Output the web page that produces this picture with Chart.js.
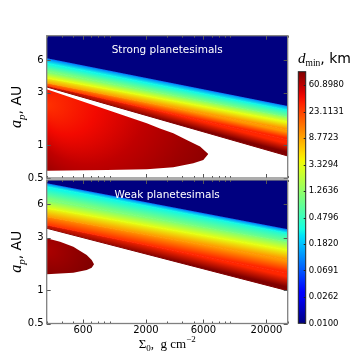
<!DOCTYPE html>
<html>
<head>
<meta charset="utf-8">
<script src="https://cdn.jsdelivr.net/npm/chart.js@4.4.1/dist/chart.umd.min.js"></script>
<style>
html, body { margin: 0; padding: 0; background: #fff; }
#wrap { position: relative; width: 360px; height: 360px; }
#wrap canvas { position: absolute; left: 0; top: 0; }
</style>
</head>
<body>
<div id="wrap">
  <canvas id="strong" width="360" height="360"></canvas>
  <canvas id="weak" width="360" height="360"></canvas>
  <canvas id="cbar" width="360" height="360"></canvas>
</div>
<script>
const sigmaRange = [300, 30000];
const apRange = [0.5, 10];
const sigmaTicks = [600, 2000, 6000, 20000];
const apTicks = [0.5, 1, 3, 6];
const dRange = [0.01, 100];
const dTicks = [0.0100, 0.0262, 0.0691, 0.1820, 0.4796, 1.2636, 3.3294, 8.7723, 23.1131, 60.8980];

// d_min contours across the sloping band, a_p where each meets sigma=300 (left) and sigma=30000 (right)
const stripeLevels = [0.1, 0.3, 1, 3.3, 10, 30, 100];
const strongLeft = [6.21, 5.57, 4.71, 4.10, 3.70, 3.49, 3.40];
const strongRight = [2.28, 2.09, 1.82, 1.64, 1.37, 1.11, 0.795];
const weakLeft = [9.33, 8.69, 6.59, 5.54, 4.65, 3.91, 3.65];
const weakRight = [3.57, 3.29, 2.76, 2.32, 1.88, 1.43, 0.992];

// inner region (small a_p), upper and lower edges, where d_min is lowest, and its levels
const strongInnerTopSigma = [300, 2030, 2610, 3370, 4360, 5620, 6580];
const strongInnerTopAp = [3.24, 1.58, 1.42, 1.28, 1.11, 0.97, 0.83];
const strongInnerBotSigma = [300, 944, 2030, 3370, 4940, 5980, 6580];
const strongInnerBotAp = [0.583, 0.592, 0.601, 0.627, 0.682, 0.731, 0.83];
const strongInnerCentre = [300, 2.33];
const strongInnerLevels = [27, 40, 60, 80, 100];

const weakInnerTopSigma = [300, 387, 499, 644, 709, 741];
const weakInnerTopAp = [2.96, 2.76, 2.48, 2.09, 1.88, 1.72];
const weakInnerBotSigma = [300, 499, 644, 709, 741];
const weakInnerBotAp = [1.40, 1.44, 1.53, 1.60, 1.72];
const weakInnerCentre = [300, 2.3];
const weakInnerLevels = [70, 80, 90, 100];

Chart.defaults.font.family = '"DejaVu Sans", sans-serif';
Chart.defaults.color = '#000';
Chart.defaults.animation = false;

// matplotlib jet
const jetR = [[0, 0], [0.35, 0], [0.66, 1], [0.89, 1], [1, 0.5]];
const jetG = [[0, 0], [0.125, 0], [0.375, 1], [0.64, 1], [0.91, 0], [1, 0]];
const jetB = [[0, 0.5], [0.11, 1], [0.34, 1], [0.65, 0], [1, 0]];
function seg(s, f) {
    for (let i = 1; i < s.length; i++) {
        if (f <= s[i][0]) {
            const [x0, y0] = s[i - 1], [x1, y1] = s[i];
            return y0 + (y1 - y0) * (f - x0) / (x1 - x0);
        }
    }
    return s[s.length - 1][1];
}
function jet(v) {
    let f = Math.log10(v / dRange[0]) / Math.log10(dRange[1] / dRange[0]);
    f = Math.min(1, Math.max(0, f));
    const c = t => Math.round(255 * t);
    return 'rgb(' + c(seg(jetR, f)) + ',' + c(seg(jetG, f)) + ',' + c(seg(jetB, f)) + ')';
}

const pts = (xs, ys) => xs.map((x, i) => ({ x: x, y: ys[i] }));

function bandGradient(chart, left, right, i) {
    const { ctx, chartArea, scales } = chart;
    const c0 = jet(stripeLevels[i]), c1 = jet(stripeLevels[i + 1]);
    if (!chartArea) return c0;
    const x = scales.x, y = scales.y;
    const xl = x.getPixelForValue(sigmaRange[0]), xr = x.getPixelForValue(sigmaRange[1]);
    const t0 = y.getPixelForValue(left[i]), t1 = y.getPixelForValue(right[i]);
    const b0 = y.getPixelForValue(left[i + 1]), b1 = y.getPixelForValue(right[i + 1]);
    const xm = (xl + xr) / 2, ym = (t0 + t1) / 2;
    const h = Math.max(0.5, (b0 + b1) / 2 - ym);
    const s = ((t1 - t0) + (b1 - b0)) / 2 / (xr - xl);
    const k = h / (1 + s * s);
    const g = ctx.createLinearGradient(xm, ym, xm - s * k, ym + k);
    g.addColorStop(0, c0);
    g.addColorStop(1, c1);
    return g;
}

function innerGradient(chart, centre, levels, reachX, reachY) {
    const { ctx, chartArea, scales } = chart;
    if (!chartArea) return jet(levels[0]);
    const x0 = scales.x.getPixelForValue(centre[0]), y0 = scales.y.getPixelForValue(centre[1]);
    const k = (reachX * reachX - reachY * reachY) / (2 * reachX), r = reachX - k;
    const g = ctx.createRadialGradient(x0, y0, 0, x0 + k, y0, r);
    levels.forEach((v, i) => g.addColorStop(i / (levels.length - 1), jet(v)));
    return g;
}

function panelSets(left, right, inner) {
    const edge = i => [{ x: sigmaRange[0], y: left[i] }, { x: sigmaRange[1], y: right[i] }];
    const sets = [{
        data: edge(0), fill: 'end', backgroundColor: jet(dRange[0]), borderWidth: 0
    }];
    stripeLevels.forEach((lv, i) => {
        const last = i === stripeLevels.length - 1;
        sets.push({
            data: edge(i),
            fill: last ? false : '+1',
            borderColor: jet(lv),
            borderWidth: 1,
            backgroundColor: last ? 'rgba(0,0,0,0)' : (c) => bandGradient(c.chart, left, right, i)
        });
    });
    sets.push({
        data: pts(inner.topSigma, inner.topAp),
        fill: '+1',
        borderWidth: 0,
        backgroundColor: (c) => innerGradient(c.chart, inner.centre, inner.levels, inner.reachX, inner.reachY)
    });
    sets.push({ data: pts(inner.botSigma, inner.botAp), fill: false, borderWidth: 0 });
    sets.forEach(d => { d.showLine = true; d.pointRadius = 0; d.tension = 0; });
    return sets;
}

function drawRich(ctx, parts, x, y, align) {
    let total = 0;
    parts.forEach(p => { ctx.font = p.font; p.w = ctx.measureText(p.text).width; total += p.w; });
    let cx = align === 'center' ? x - total / 2 : x;
    ctx.textAlign = 'left';
    ctx.textBaseline = 'alphabetic';
    parts.forEach(p => { ctx.font = p.font; ctx.fillText(p.text, cx, y + (p.dy || 0)); cx += p.w; });
}

const minorSigma = [];
[100, 1000, 10000].forEach(d => {
    for (let m = 1; m <= 9; m++) {
        const v = m * d;
        if (v >= sigmaRange[0] && v <= sigmaRange[1]) minorSigma.push(v);
    }
});

const axisFrame = {
    id: 'axisFrame',
    afterDatasetsDraw(chart, args, opts) {
        const { ctx, chartArea: a, scales } = chart;
        const x = scales.x, y = scales.y;
        ctx.save();
        ctx.strokeStyle = '#555';
        ctx.lineWidth = 1;
        ctx.beginPath();
        minorSigma.forEach(v => {
            const px = Math.round(x.getPixelForValue(v)) + 0.5;
            const len = sigmaTicks.includes(v) ? 4 : 2;
            ctx.moveTo(px, a.bottom); ctx.lineTo(px, a.bottom - len);
            ctx.moveTo(px, a.top); ctx.lineTo(px, a.top + len);
        });
        apTicks.forEach(v => {
            const py = Math.round(y.getPixelForValue(v)) + 0.5;
            ctx.moveTo(a.left, py); ctx.lineTo(a.left + 4, py);
            ctx.moveTo(a.right, py); ctx.lineTo(a.right - 4, py);
        });
        ctx.stroke();
        ctx.strokeStyle = '#808080';
        ctx.lineWidth = 1.3;
        ctx.strokeRect(a.left, a.top, a.right - a.left, a.bottom - a.top);

        ctx.fillStyle = '#fff';
        ctx.font = '10.5px "DejaVu Sans"';
        ctx.textAlign = 'center';
        ctx.textBaseline = 'middle';
        ctx.fillText(opts.label, (a.left + a.right) / 2, a.top + 15);

        ctx.fillStyle = '#000';
        if (opts.xTitle) {
            drawRich(ctx, [
                { text: 'Σ', font: '13px "Liberation Serif"' },
                { text: '0', font: '9px "Liberation Serif"', dy: 3 },
                { text: ',  g cm', font: '13px "Liberation Serif"' },
                { text: '−2', font: '9px "Liberation Serif"', dy: -6 }
            ], (a.left + a.right) / 2, 348, 'center');
        }
        ctx.translate(21, (a.top + a.bottom) / 2);
        ctx.rotate(-Math.PI / 2);
        drawRich(ctx, [
            { text: 'a', font: 'italic 16px "Liberation Serif"' },
            { text: 'p', font: 'italic 11px "Liberation Serif"', dy: 3.5 },
            { text: ', AU', font: '14px "DejaVu Sans"' }
        ], 0, 0, 'center');
        ctx.restore();
    }
};

function panelChart(id, left, right, inner, label, showX, pad) {
    return new Chart(document.getElementById(id), {
        type: 'scatter',
        data: { datasets: panelSets(left, right, inner) },
        options: {
            responsive: false,
            devicePixelRatio: 1,
            events: [],
            layout: { padding: pad },
            plugins: {
                legend: { display: false },
                tooltip: { enabled: false },
                axisFrame: { label: label, xTitle: showX }
            },
            scales: {
                x: {
                    type: 'logarithmic',
                    display: showX,
                    min: sigmaRange[0],
                    max: sigmaRange[1],
                    afterBuildTicks: s => { s.ticks = sigmaTicks.map(v => ({ value: v })); },
                    afterFit: s => { s.height = showX ? 36.5 : 0; },
                    grid: { display: false, drawTicks: false },
                    border: { display: false },
                    ticks: {
                        autoSkip: false, maxRotation: 0, padding: 1,
                        font: { size: 10 }, color: '#000',
                        callback: v => String(v)
                    }
                },
                y: {
                    type: 'logarithmic',
                    min: apRange[0],
                    max: apRange[1],
                    afterBuildTicks: s => { s.ticks = apTicks.map(v => ({ value: v })); },
                    afterFit: s => { s.width = 46.7; },
                    grid: { display: false, drawTicks: false },
                    border: { display: false },
                    ticks: {
                        autoSkip: false, padding: 3,
                        font: { size: 10 }, color: '#000',
                        callback: v => String(v)
                    }
                }
            }
        },
        plugins: [axisFrame]
    });
}

panelChart('strong', strongLeft, strongRight, {
    topSigma: strongInnerTopSigma, topAp: strongInnerTopAp,
    botSigma: strongInnerBotSigma, botAp: strongInnerBotAp,
    centre: strongInnerCentre, levels: strongInnerLevels, reachX: 200, reachY: 87
}, 'Strong planetesimals', false, { left: 0, right: 72.3, top: 35.7, bottom: 182 });

panelChart('weak', weakLeft, weakRight, {
    topSigma: weakInnerTopSigma, topAp: weakInnerTopAp,
    botSigma: weakInnerBotSigma, botAp: weakInnerBotAp,
    centre: weakInnerCentre, levels: weakInnerLevels, reachX: 50, reachY: 30
}, 'Weak planetesimals', true, { left: 0, right: 72.3, top: 180, bottom: 0 });

// colour bar
const cbarFrame = {
    id: 'cbarFrame',
    afterDatasetsDraw(chart) {
        const { ctx, chartArea: a, scales } = chart;
        ctx.save();
        ctx.strokeStyle = '#222';
        ctx.lineWidth = 1;
        ctx.beginPath();
        dTicks.forEach(v => {
            const py = Math.round(scales.y.getPixelForValue(v)) + 0.5;
            ctx.moveTo(a.right, py); ctx.lineTo(a.right - 2, py);
        });
        ctx.stroke();
        ctx.strokeRect(a.left, a.top, a.right - a.left, a.bottom - a.top);
        ctx.fillStyle = '#000';
        drawRich(ctx, [
            { text: 'd', font: 'italic 15px "Liberation Serif"' },
            { text: 'min', font: '9.5px "Liberation Serif"', dy: 3 },
            { text: ', km', font: '14px "DejaVu Sans"' }
        ], 298, 62.5, 'left');
        ctx.restore();
    }
};

function cbarGradient(chart) {
    const { ctx, chartArea, scales } = chart;
    if (!chartArea) return jet(1);
    const y0 = scales.y.getPixelForValue(dRange[0]), y1 = scales.y.getPixelForValue(dRange[1]);
    const g = ctx.createLinearGradient(0, y0, 0, y1);
    const n = 40;
    for (let k = 0; k <= n; k++) {
        g.addColorStop(k / n, jet(dRange[0] * Math.pow(dRange[1] / dRange[0], k / n)));
    }
    return g;
}

new Chart(document.getElementById('cbar'), {
    type: 'bar',
    data: {
        labels: ['d_min'],
        datasets: [{
            data: [dRange],
            backgroundColor: c => cbarGradient(c.chart),
            borderWidth: 0,
            barPercentage: 1,
            categoryPercentage: 1
        }]
    },
    options: {
        responsive: false,
        devicePixelRatio: 1,
        events: [],
        layout: { padding: { left: 298.3, right: 0, top: 71.7, bottom: 36.7 } },
        plugins: { legend: { display: false }, tooltip: { enabled: false } },
        scales: {
            x: { display: false },
            y: {
                type: 'logarithmic',
                position: 'right',
                min: dRange[0],
                max: dRange[1],
                afterBuildTicks: s => { s.ticks = dTicks.map(v => ({ value: v })); },
                afterFit: s => { s.width = 54.3; },
                grid: { display: false, drawTicks: false },
                border: { display: false },
                ticks: {
                    autoSkip: false, padding: 3,
                    font: { size: 8.5 }, color: '#000',
                    callback: v => v.toFixed(4)
                }
            }
        }
    },
    plugins: [cbarFrame]
});
</script>
</body>
</html>
